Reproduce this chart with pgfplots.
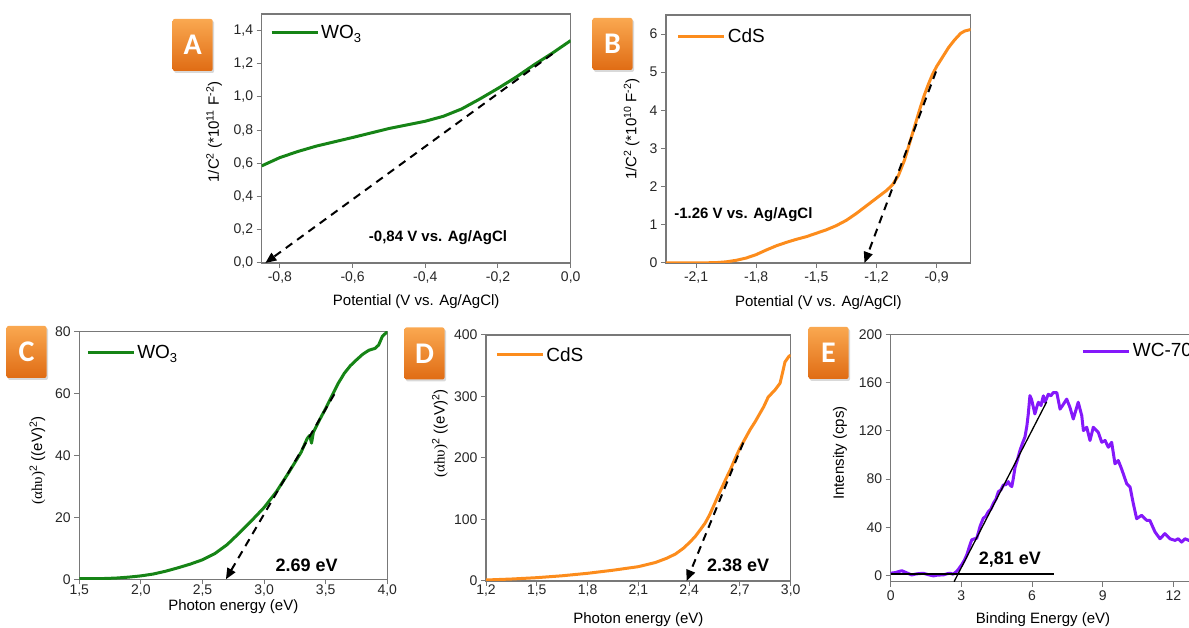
\documentclass[border=0pt]{standalone}
\usepackage{pgfplots}
\pgfplotsset{compat=1.18}
\usepackage{fontspec}
\setmainfont{Liberation Sans}
\newfontfamily\serifgreek{Liberation Serif}
\newfontfamily\boxfont{Carlito}
\usetikzlibrary{arrows.meta,shadows}

\definecolor{framegray}{RGB}{120,120,120}
\definecolor{wogreen}{RGB}{22,132,22}
\definecolor{cdsorange}{RGB}{252,140,28}
\definecolor{wcviolet}{RGB}{132,24,250}
\definecolor{boxtop}{RGB}{250,168,80}
\definecolor{boxbot}{RGB}{224,108,20}

\pgfplotsset{
  panel/.style={
    scale only axis, enlargelimits=false, anchor=south west,
    axis line style={draw=framegray, line width=1.2pt},
    tick style={draw=framegray, line width=1pt},
    tick align=outside, major tick length=5pt, tick pos=left,
    /pgf/number format/assume math mode=true,
    tick label style={font=\fontsize{14}{16}\selectfont, text=black!85},
    label style={font=\fontsize{15}{17}\selectfont},
    legend style={draw=none, fill=none, inner sep=0pt, anchor=west,
                  font=\fontsize{19}{21}\selectfont},
    legend image code/.code={\draw[##1] (0pt,0pt) -- (46pt,0pt);},
  },
  curve/.style={line width=3pt, line join=round},
}
\tikzset{
  dasharrow/.style={line width=2pt, dash pattern=on 8pt off 6pt,
                    -{Triangle[length=11pt,width=9pt]}},
  labelbox/.style={minimum width=40pt, minimum height=52pt, inner sep=0pt,
                   rounded corners=2pt, top color=boxtop, bottom color=boxbot,
                   text=white, font=\boxfont\bfseries\fontsize{30}{30}\selectfont,
                   drop shadow={opacity=0.3, shadow xshift=1.5pt, shadow yshift=-2pt}},
  note/.style={font=\bfseries\fontsize{15}{17}\selectfont},
  bignote/.style={font=\bfseries\fontsize{18}{20}\selectfont},
}

\newcommand{\WOthree}{WO\raisebox{-0.4ex}{\fontsize{13}{13}\selectfont 3}}

\begin{document}
\begin{tikzpicture}

%% A: Mott-Schottky WO3
\begin{axis}[panel, at={(261.7pt,365pt)}, width=309pt, height=249pt,
  xmin=-0.85, xmax=0, ymin=0, ymax=1.5,
  xtick={-0.8,-0.6,-0.4,-0.2,0},
  xticklabels={{-0,8},{-0,6},{-0,4},{-0,2},{0,0}},
  ytick={0,0.2,0.4,0.6,0.8,1.0,1.2,1.4},
  yticklabels={{0,0},{0,2},{0,4},{0,6},{0,8},{1,0},{1,2},{1,4}},
  xlabel={Potential (V vs. Ag/AgCl)},
  ylabel={1/C\textsuperscript{2} (*10\textsuperscript{11} F\textsuperscript{-2})},
  xlabel style={at={(axis description cs:0.5,-0.155)}, anchor=center},
  ylabel style={at={(axis description cs:-0.154,0.526)}, anchor=center},
  legend style={at={(axis description cs:0.027,0.926)}},
]
\addplot[curve, wogreen] coordinates {
  (-0.85,0.585) (-0.8,0.635) (-0.75,0.672) (-0.7,0.704) (-0.65,0.730)
  (-0.6,0.756) (-0.55,0.783) (-0.5,0.810) (-0.45,0.832) (-0.4,0.854)
  (-0.35,0.884) (-0.3,0.928) (-0.25,0.988) (-0.2,1.052) (-0.15,1.120)
  (-0.1,1.195) (-0.05,1.265) (0,1.340)
};
\addlegendentry{\WOthree}
\draw[dasharrow] (axis cs:-0.05,1.26) -- (axis cs:-0.84,0);
\node[note] at (axis cs:-0.365,0.15) {-0,84 V vs. Ag/AgCl};
\end{axis}

%% B: Mott-Schottky CdS
\begin{axis}[panel, at={(666pt,365pt)}, width=304.7pt, height=248pt,
  xmin=-2.25, xmax=-0.73, ymin=0, ymax=6.5,
  xtick={-2.1,-1.8,-1.5,-1.2,-0.9},
  xticklabels={{-2,1},{-1,8},{-1,5},{-1,2},{-0,9}},
  ytick={0,1,2,3,4,5,6},
  xlabel={Potential (V vs. Ag/AgCl)},
  ylabel={1/C\textsuperscript{2} (*10\textsuperscript{10} F\textsuperscript{-2})},
  xlabel style={at={(axis description cs:0.5,-0.161)}, anchor=center},
  ylabel style={at={(axis description cs:-0.113,0.54)}, anchor=center},
  legend style={at={(axis description cs:0.035,0.912)}},
]
\addplot[curve, cdsorange] coordinates {
  (-2.25,0.0) (-2.1,0.0) (-2.0,0.01) (-1.95,0.03) (-1.9,0.07) (-1.85,0.13)
  (-1.8,0.22) (-1.75,0.34) (-1.7,0.45) (-1.65,0.54) (-1.6,0.62) (-1.55,0.69)
  (-1.5,0.78) (-1.45,0.87) (-1.4,0.98) (-1.35,1.12) (-1.3,1.30) (-1.25,1.50)
  (-1.2,1.70) (-1.15,1.90) (-1.12,2.05) (-1.09,2.30) (-1.06,2.70) (-1.04,3.05)
  (-1.02,3.40) (-1.0,3.75) (-0.98,4.10) (-0.96,4.42) (-0.94,4.70) (-0.92,4.95)
  (-0.9,5.15) (-0.87,5.40) (-0.84,5.65) (-0.81,5.85) (-0.78,6.02) (-0.76,6.08)
  (-0.73,6.12)
};
\addlegendentry{CdS}
\draw[dasharrow] (axis cs:-0.903,5.02) -- (axis cs:-1.26,0);
\node[note] at (axis cs:-1.864,1.26) {-1.26 V vs. Ag/AgCl};
\end{axis}

%% C: Tauc WO3
\begin{axis}[panel, at={(79.3pt,48.7pt)}, width=308pt, height=247.6pt,
  xmin=1.5, xmax=4.0, ymin=0, ymax=80,
  xtick={1.5,2.0,2.5,3.0,3.5,4.0},
  xticklabels={{1,5},{2,0},{2,5},{3,0},{3,5},{4,0}},
  ytick={0,20,40,60,80},
  xticklabel shift=-3pt,
  xlabel={Photon energy (eV)},
  ylabel={{\serifgreek (αhυ)}\textsuperscript{2} ((eV)\textsuperscript{2})},
  xlabel style={at={(axis description cs:0.5,-0.11)}, anchor=center},
  ylabel style={at={(axis description cs:-0.136,0.48)}, anchor=center},
  legend style={at={(axis description cs:0.022,0.917)}},
]
\addplot[curve, wogreen] coordinates {
  (1.5,0.2) (1.7,0.25) (1.8,0.4) (1.9,0.7) (2.0,1.1) (2.1,1.7) (2.2,2.6)
  (2.3,3.7) (2.4,4.9) (2.5,6.3) (2.6,8.3) (2.7,11.2) (2.8,15.0) (2.9,19.0)
  (3.0,23.2) (3.1,28.3) (3.2,34.5) (3.3,41.0) (3.35,45.5) (3.37,46.5)
  (3.385,44.0) (3.40,47.5) (3.45,51.5) (3.5,55.2) (3.55,59.2) (3.6,63.2)
  (3.65,66.5) (3.7,69.0) (3.75,70.9) (3.8,72.7) (3.85,74.0) (3.9,74.6)
  (3.93,75.7) (3.96,78.5) (4.0,80)
};
\addlegendentry{\WOthree}
\draw[dasharrow] (axis cs:3.57,59.8) -- (axis cs:2.69,0);
\node[bignote] at (axis cs:3.346,4.6) {2.69 eV};
\end{axis}

%% D: Tauc CdS
\begin{axis}[panel, at={(486pt,47pt)}, width=304.7pt, height=246pt,
  xmin=1.2, xmax=3.0, ymin=0, ymax=400,
  xtick={1.2,1.5,1.8,2.1,2.4,2.7,3.0},
  xticklabels={{1,2},{1,5},{1,8},{2,1},{2,4},{2,7},{3,0}},
  ytick={0,100,200,300,400},
  xticklabel shift=-5pt,
  xlabel={Photon energy (eV)},
  ylabel={{\serifgreek (αhυ)}\textsuperscript{2} ((eV)\textsuperscript{2})},
  xlabel style={at={(axis description cs:0.5,-0.158)}, anchor=center},
  ylabel style={at={(axis description cs:-0.151,0.6)}, anchor=center},
  legend style={at={(axis description cs:0.03,0.919)}},
]
\addplot[curve, cdsorange] coordinates {
  (1.2,1.6) (1.35,3.2) (1.5,5.4) (1.65,8.5) (1.8,12.5) (1.95,17.5) (2.1,23.3)
  (2.2,30) (2.267,36.9) (2.32,44) (2.365,53) (2.40,62) (2.435,72) (2.465,83)
  (2.494,94) (2.52,107) (2.543,121) (2.567,136) (2.592,151) (2.617,166)
  (2.642,180) (2.67,198) (2.70,216) (2.73,231) (2.76,246) (2.79,259)
  (2.819,273) (2.84,283) (2.867,299) (2.907,310.6) (2.937,321.5) (2.953,340)
  (2.966,356) (2.99,365.5) (3.0,367)
};
\addlegendentry{CdS}
\draw[dasharrow] (axis cs:2.72,225) -- (axis cs:2.385,0);
\node[bignote] at (axis cs:2.689,26) {2.38 eV};
\end{axis}

%% E: XPS valence band WC-700
\begin{axis}[panel, at={(890.7pt,46.3pt)}, width=329.8pt, height=247.4pt,
  xmin=0, xmax=14, ymin=-5, ymax=200,
  xtick={0,3,6,9,12}, ytick={0,40,80,120,160,200},
  xlabel={Binding Energy (eV)},
  ylabel={Intensity (cps)},
  xlabel style={at={(axis description cs:0.462,-0.155)}, anchor=center},
  ylabel style={at={(axis description cs:-0.154,0.52)}, anchor=center},
  legend style={at={(axis description cs:0.579,0.932)}},
]
\addplot[curve, wcviolet] coordinates {
  (0.0,2.0) (0.2,2.6) (0.47,4.1) (0.7,2.2) (0.89,0.6) (1.1,1.5) (1.38,2.0)
  (1.6,0.8) (1.81,-0.2) (2.0,0.5) (2.23,0.6) (2.4,1.6) (2.52,2.0) (2.65,1.2)
  (2.8,3.5) (2.9,6.0) (3.01,9.0) (3.12,12.5) (3.23,17.2) (3.34,24.0)
  (3.44,29.7) (3.55,30.5) (3.65,31.0) (3.72,35.5) (3.79,40.7) (3.93,47.6)
  (4.03,49.0) (4.14,53.0) (4.25,55.0) (4.36,60.0) (4.47,63.5) (4.57,69.6)
  (4.68,71.0) (4.78,75.1) (4.9,75.5) (4.99,77.9) (5.07,75.0) (5.14,73.8)
  (5.2,80.0) (5.28,90.0) (5.38,96.0) (5.49,104.0) (5.6,110.0) (5.7,115.0)
  (5.78,124.0) (5.84,134.0) (5.91,149.2) (5.98,146.0) (6.05,140.0)
  (6.12,134.0) (6.2,139.6) (6.27,143.7) (6.38,141.0) (6.48,149.0)
  (6.55,143.7) (6.69,150.3) (6.8,149.0) (6.9,151.7) (7.05,151.7) (7.19,138.0)
  (7.33,142.0) (7.47,146.3) (7.61,139.4) (7.75,129.8) (7.96,143.7)
  (8.11,132.6) (8.18,120.2) (8.32,123.0) (8.46,112.0) (8.6,123.0)
  (8.81,118.8) (8.96,110.5) (9.1,112.0) (9.24,106.4) (9.38,110.5)
  (9.52,92.7) (9.66,95.4) (9.8,88.5) (10.02,76.1) (10.16,73.4) (10.3,59.6)
  (10.44,47.2) (10.65,50.0) (10.87,45.8) (11.0,45.8) (11.22,36.2)
  (11.43,30.6) (11.64,34.8) (11.85,30.6) (12.07,29.2) (12.21,30.6)
  (12.35,27.8) (12.49,30.6) (12.66,29.2) (12.9,30.0) (13.2,28.5)
  (13.5,29.5) (13.8,28.0) (14.0,28.5)
};
\addlegendentry{WC-700}
\draw[line width=1.3pt] (axis cs:2.69,-5) -- (axis cs:6.62,144);
\draw[line width=1.3pt] (axis cs:0,1.5) -- (axis cs:6.93,1.5);
\node[bignote] at (axis cs:5.06,13) {2,81 eV};
\end{axis}

%% panel letters
\node[labelbox] at (192.7pt,583pt) {A};
\node[labelbox] at (612.5pt,584pt) {B};
\node[labelbox] at (26.5pt,276pt) {C};
\node[labelbox] at (424.5pt,274.5pt) {D};
\node[labelbox] at (828.5pt,275pt) {E};

\pgfresetboundingbox
\path[use as bounding box] (0pt,0pt) rectangle (1189pt,628pt);
\end{tikzpicture}
\end{document}
